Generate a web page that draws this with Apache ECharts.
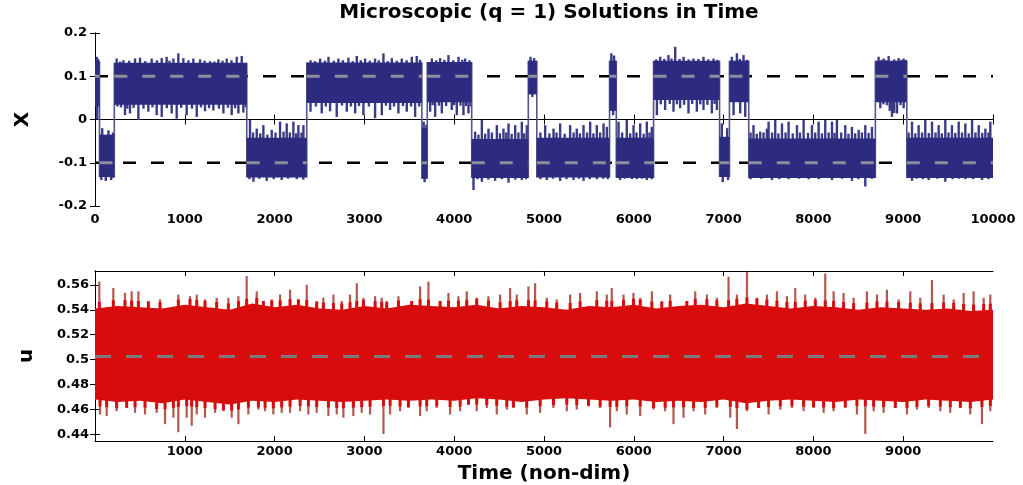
<!DOCTYPE html>
<html><head><meta charset="utf-8">
<script src="https://cdn.jsdelivr.net/npm/echarts@6/dist/echarts.min.js"></script>
<style>html,body{margin:0;padding:0;background:#fff}#c{width:1023px;height:485px}</style>
</head><body><div id="c"></div>
<script>
// ---------- Top panel (X) : metastable segments ----------
const xSegStart = [0, 50, 215, 1690, 2358, 3640, 3700, 4195, 4825, 4920, 5730, 5805, 6220, 6955, 7065, 7280, 8690, 9040];
const xSegEnd   = [50, 215, 1690, 2358, 3640, 3700, 4195, 4825, 4920, 5730, 5805, 6220, 6955, 7065, 7280, 8690, 9040, 10000];
const xSegState = [1, -1, 1, -1, 1, -1, 1, -1, 1, -1, 1, -1, 1, -1, 1, -1, 1, -1];
const xCoreHi   = [0.135, -0.035, 0.131, -0.042, 0.132, -0.02, 0.133, -0.045, 0.136, -0.042, 0.136, -0.042, 0.136, -0.04, 0.136, -0.044, 0.136, -0.042];
const xCoreLo   = [0.03, -0.133, 0.034, -0.134, 0.038, -0.137, 0.04, -0.135, 0.058, -0.134, 0.02, -0.135, 0.045, -0.133, 0.04, -0.135, 0.04, -0.135];
// upward excursions (peaks) of X, [time, value]
const xSpikeHi = [
 [20,0.145],[35,0.14],[80,-0.02],[150,-0.025],[200,-0.03],
 [241,0.141],[280,0.134],[316,0.137],[380,0.136],[446,0.141],[501,0.143],[560,0.135],[631,0.141],[690,0.137],[743,0.142],[798,0.145],[830,0.136],[873,0.141],[928,0.153],[984,0.142],[1040,0.137],[1095,0.141],[1170,0.139],[1220,0.136],[1281,0.135],[1330,0.134],[1374,0.139],[1420,0.136],[1467,0.141],[1520,0.137],[1578,0.145],[1634,0.147],
 [1726,-0.001],[1760,-0.03],[1801,-0.021],[1840,-0.032],[1875,-0.013],[1920,-0.035],[1968,-0.024],[2010,-0.03],[2061,-0.005],[2100,-0.028],[2135,-0.009],[2170,-0.03],[2209,-0.005],[2240,-0.032],[2265,-0.013],[2300,-0.03],[2321,-0.013],
 [2400,0.137],[2450,0.135],[2507,0.141],[2560,0.136],[2600,0.145],[2660,0.136],[2711,0.141],[2760,0.137],[2822,0.143],[2870,0.135],[2915,0.147],[2960,0.137],[3008,0.141],[3060,0.136],[3119,0.141],[3160,0.137],[3212,0.153],[3260,0.135],[3305,0.142],[3360,0.136],[3416,0.141],[3470,0.137],[3528,0.145],[3583,0.147],[3620,0.138],
 [3660,-0.005],[3690,-0.012],
 [3751,0.141],[3800,0.137],[3843,0.142],[3890,0.138],[3936,0.149],[3990,0.137],[4048,0.145],[4090,0.138],[4122,0.141],[4170,0.137],
 [4233,-0.028],[4270,-0.035],[4308,-0.001],[4345,-0.033],[4382,-0.021],[4420,-0.03],[4475,-0.013],[4510,-0.032],[4549,-0.021],[4580,-0.03],[4605,-0.009],[4640,-0.033],[4679,-0.013],[4715,-0.03],[4753,-0.005],[4780,-0.032],[4809,-0.013],
 [4850,0.145],[4890,0.142],
 [4960,-0.03],[5013,-0.013],[5060,-0.032],[5106,-0.021],[5140,-0.03],[5180,-0.009],[5230,-0.033],[5291,-0.013],[5330,-0.03],[5365,-0.021],[5400,-0.032],[5440,-0.013],[5480,-0.03],[5514,-0.005],[5550,-0.032],[5588,-0.013],[5625,-0.03],[5663,-0.009],[5700,-0.017],
 [5750,0.153],[5780,0.148],
 [5830,-0.005],[5870,-0.03],[5922,-0.001],[5960,-0.032],[5997,-0.013],[6030,-0.03],[6071,-0.009],[6110,-0.033],[6145,-0.005],[6175,-0.03],[6201,-0.017],
 [6250,0.139],[6294,0.145],[6340,0.14],[6386,0.149],[6420,0.141],[6461,0.168],[6510,0.14],[6554,0.145],[6610,0.139],[6665,0.141],[6720,0.14],[6776,0.145],[6830,0.139],[6888,0.141],[6930,0.138],
 [6980,-0.009],[7040,-0.02],
 [7092,0.145],[7148,0.153],[7180,0.14],[7222,0.149],[7260,0.138],
 [7300,-0.03],[7333,-0.013],[7370,-0.033],[7408,-0.028],[7445,-0.03],[7482,-0.021],[7501,-0.005],[7540,-0.03],[7575,-0.001],[7610,-0.032],[7650,-0.009],[7690,-0.03],[7724,-0.005],[7770,-0.032],[7817,-0.013],[7850,-0.03],[7891,-0.001],[7940,-0.031],[7984,-0.013],[8020,-0.03],[8058,-0.005],[8095,-0.032],[8132,-0.001],[8170,-0.03],[8207,-0.005],[8235,-0.031],[8262,-0.001],[8310,-0.03],[8355,-0.013],[8390,-0.033],[8429,-0.017],[8465,-0.032],[8504,-0.024],[8540,-0.03],[8578,-0.013],[8615,-0.031],[8652,-0.017],
 [8726,0.145],[8760,0.138],[8782,0.141],[8810,0.137],[8838,0.147],[8900,0.139],[8949,0.142],[8980,0.138],[9005,0.141],[9030,0.138],
 [9060,-0.03],[9098,-0.005],[9135,-0.032],[9172,-0.013],[9210,-0.03],[9246,-0.001],[9285,-0.031],[9321,-0.005],[9360,-0.03],[9395,-0.013],[9430,-0.032],[9469,-0.001],[9505,-0.03],[9543,-0.013],[9580,-0.031],[9618,-0.005],[9655,-0.03],[9692,-0.009],[9730,-0.032],[9767,-0.001],[9805,-0.03],[9841,-0.013],[9880,-0.031],[9915,-0.021],[9950,-0.03],[9970,-0.005]
];
// downward excursions (troughs) of X, [time, value]
const xSpikeLo = [
 [25,0.0],[70,-0.14],[120,-0.142],[180,-0.14],[205,-0.135],
 [250,0.03],[290,0.028],[334,0.010],[360,0.025],[390,0.014],[430,0.027],[483,-0.001],[540,0.025],[594,0.018],[640,0.028],[687,0.010],[743,0.006],[800,0.026],[854,0.014],[910,0.002],[960,0.027],[1021,0.010],[1080,0.025],[1133,0.006],[1180,0.028],[1225,0.019],[1270,0.026],[1318,0.021],[1380,0.025],[1430,0.014],[1480,0.027],[1522,0.010],[1560,0.026],[1597,0.014],[1652,0.016],[1680,0.028],
 [1720,-0.138],[1764,-0.144],[1830,-0.137],[1912,-0.142],[1990,-0.138],[2079,-0.14],[2150,-0.137],[2246,-0.138],[2320,-0.139],
 [2400,0.018],[2460,0.03],[2525,0.014],[2570,0.03],[2618,0.019],[2692,0.006],[2750,0.032],[2804,0.018],[2850,0.03],[2897,0.014],[2940,0.031],[2989,0.010],[3050,0.03],[3119,0.003],[3194,0.010],[3240,0.032],[3286,0.022],[3330,0.03],[3379,0.014],[3430,0.031],[3472,0.018],[3520,0.03],[3565,0.006],[3610,0.03],
 [3670,-0.145],
 [3732,0.018],[3760,0.033],[3788,0.006],[3830,0.032],[3862,0.014],[3910,0.031],[3973,0.022],[4000,0.033],[4029,0.010],[4070,0.032],[4103,0.010],[4130,0.031],[4159,0.014],[4185,0.03],
 [4215,-0.163],[4260,-0.138],[4308,-0.144],[4380,-0.139],[4456,-0.142],[4530,-0.138],[4605,-0.146],[4680,-0.139],[4753,-0.14],[4800,-0.138],
 [4870,0.052],
 [4960,-0.138],[5031,-0.14],[5100,-0.137],[5180,-0.142],[5250,-0.138],[5328,-0.14],[5390,-0.137],[5440,-0.142],[5510,-0.138],[5588,-0.138],[5660,-0.137],[5710,-0.138],
 [5770,0.01],
 [5848,-0.14],[5900,-0.137],[5980,-0.138],[6034,-0.138],[6090,-0.137],[6145,-0.14],[6200,-0.138],
 [6257,0.010],[6300,0.035],[6349,0.022],[6400,0.036],[6442,0.018],[6480,0.035],[6516,0.026],[6560,0.034],[6609,0.014],[6650,0.036],[6702,0.018],[6740,0.035],[6776,0.022],[6820,0.034],[6869,0.014],[6900,0.036],[6925,0.022],
 [6990,-0.145],[7050,-0.14],
 [7111,0.010],[7185,0.014],[7241,0.006],
 [7300,-0.138],[7420,-0.137],[7538,-0.14],[7620,-0.138],[7724,-0.138],[7840,-0.137],[7947,-0.138],[8060,-0.138],[8207,-0.14],[8320,-0.137],[8429,-0.142],[8500,-0.138],[8578,-0.155],[8650,-0.137],
 [8745,0.026],[8780,0.035],[8819,0.033],[8850,0.02],[8875,0.006],[8900,0.015],[8931,0.014],[8970,0.033],[9005,0.026],
 [9098,-0.142],[9150,-0.137],[9220,-0.138],[9283,-0.14],[9380,-0.137],[9469,-0.144],[9550,-0.138],[9620,-0.137],[9692,-0.138],[9780,-0.138],[9878,-0.14],[9950,-0.138]
];
const xWellLevels = [0.1, -0.1];
const xTicks = [-0.2, -0.1, 0, 0.1, 0.2];

// ---------- Bottom panel (u) ----------
const uCoreT  = [0, 250, 500, 750, 1000, 1250, 1500, 1750, 2000, 2250, 2500, 2750, 3000, 3250, 3500, 3750, 4000, 4250, 4500, 4750, 5000,
                 5250, 5500, 5750, 6000, 6250, 6500, 6750, 7000, 7250, 7500, 7750, 8000, 8250, 8500, 8750, 9000, 9250, 9500, 9750, 10000];
const uCoreHi = [0.541, 0.543, 0.542, 0.541, 0.544, 0.542, 0.540, 0.545, 0.542, 0.544, 0.541, 0.540, 0.543, 0.541, 0.544, 0.543, 0.542, 0.544, 0.541, 0.543, 0.542,
                 0.540, 0.543, 0.542, 0.544, 0.541, 0.543, 0.544, 0.542, 0.545, 0.543, 0.541, 0.543, 0.542, 0.540, 0.542, 0.541, 0.540, 0.541, 0.539, 0.540];
const uCoreLo = [0.468, 0.466, 0.467, 0.465, 0.468, 0.466, 0.464, 0.467, 0.466, 0.468, 0.467, 0.466, 0.467, 0.468, 0.467, 0.468, 0.467, 0.469, 0.468, 0.466, 0.468,
                 0.469, 0.468, 0.467, 0.468, 0.466, 0.467, 0.466, 0.468, 0.465, 0.467, 0.468, 0.467, 0.466, 0.468, 0.467, 0.466, 0.468, 0.467, 0.466, 0.468];
const uMean = 0.5025;
const uSpikeHi = [
 [48,0.5626],[204,0.5574],[334,0.5535],[408,0.5548],[483,0.5548],[594,0.547],[724,0.5483],[928,0.5522],[1058,0.5509],[1133,0.5522],[1225,0.5483],[1355,0.5496],[1485,0.5496],[1597,0.5509],[1689,0.567],[1801,0.5548],[1875,0.547],[1968,0.5483],[2061,0.5522],[2172,0.5561],[2265,0.5483],[2358,0.56],[2469,0.547],[2543,0.5496],[2655,0.5522],[2748,0.547],[2840,0.5522],[2915,0.5613],[2989,0.5496],[3119,0.5509],[3193,0.5496],
 [3249,0.547],[3379,0.5509],[3527,0.547],[3620,0.5587],[3713,0.5626],[3843,0.547],[3936,0.5535],[4047,0.5509],[4140,0.5548],[4251,0.5496],[4381,0.5509],[4511,0.5522],[4623,0.5574],[4697,0.5522],[4827,0.5587],[4901,0.5613],[5031,0.5496],[5142,0.5483],[5291,0.5522],[5402,0.5535],[5588,0.5548],[5699,0.5522],[5755,0.5574],[5885,0.5522],[5996,0.5535],[6071,0.5496],[6201,0.5548],[6312,0.547],[6405,0.5522],
 [6591,0.547],[6684,0.5548],[6814,0.5522],[6925,0.5496],[7055,0.5665],[7148,0.5522],[7260,0.5704],[7371,0.5496],[7482,0.5522],[7594,0.5548],[7705,0.5509],[7798,0.5574],[7909,0.5522],[8021,0.5496],[8132,0.5691],[8225,0.5548],[8336,0.5535],[8448,0.5496],[8596,0.5548],[8708,0.5522],[8819,0.5561],[8949,0.5483],[9079,0.5548],[9190,0.5496],[9320,0.5639],[9450,0.5522],[9562,0.5483],[9673,0.5535],[9784,0.5548],[9896,0.5496],[9970,0.5522]
];
const uSpikeLo = [
 [56,0.4561],[130,0.4548],[241,0.4587],[353,0.4613],[446,0.4574],[557,0.4561],[687,0.4574],[780,0.4483],[873,0.4535],[928,0.4418],[1021,0.4535],[1077,0.447],[1133,0.4561],[1225,0.4535],[1337,0.4574],[1430,0.4587],[1522,0.4535],[1597,0.4483],[1708,0.4561],[1819,0.46],[1894,0.4587],[1986,0.4561],[2079,0.4574],[2172,0.4574],[2284,0.4587],[2376,0.4561],[2469,0.4574],[2599,0.4548],[2692,0.4561],[2766,0.4535],[2877,0.4548],[2970,0.4574],[3063,0.4561],[3212,0.4405],
 [3286,0.4561],[3397,0.4587],[3490,0.4613],[3620,0.4548],[3694,0.4587],[3806,0.4613],[3954,0.4561],[4066,0.4587],[4159,0.4639],[4251,0.4587],[4363,0.4613],[4474,0.4561],[4586,0.46],[4660,0.4613],[4808,0.4561],[4957,0.4574],[5105,0.4613],[5254,0.4587],[5365,0.46],[5495,0.4626],[5625,0.4613],[5736,0.4457],[5811,0.4587],[5922,0.4561],[6071,0.4548],[6220,0.46],[6349,0.4587],[6442,0.4483],
 [6554,0.4535],[6666,0.4587],[6795,0.4561],[6925,0.4613],[7074,0.4535],[7148,0.4444],[7260,0.4587],[7390,0.4613],[7501,0.4561],[7631,0.46],[7761,0.4613],[7891,0.4587],[8002,0.4613],[8114,0.4574],[8225,0.4587],[8355,0.4613],[8485,0.4561],[8578,0.4405],[8671,0.4587],[8782,0.4574],[8912,0.4613],[9042,0.4561],[9153,0.46],[9283,0.4613],[9413,0.4587],[9524,0.4574],[9636,0.4613],[9747,0.4561],[9877,0.4483],[9970,0.4587]
];
const uTicks = [0.44, 0.46, 0.48, 0.5, 0.52, 0.54, 0.56];
const timeTicks = [1000, 2000, 3000, 4000, 5000, 6000, 7000, 8000, 9000];

// ---------- build ----------
const FONT = 'DejaVu Sans';
const NAVY = '#2c2b80', NAVY_EDGE = '#3b3a86', RED = '#d80c0c', RED_EDGE = '#b4574e';

function segIndexAt(t) {
  for (let i = 0; i < xSegStart.length; i++) if (t >= xSegStart[i] && t <= xSegEnd[i]) return i;
  return xSegStart.length - 1;
}
function coreAt(arr, t) {
  for (let i = 0; i < uCoreT.length - 1; i++) {
    if (t <= uCoreT[i + 1]) { const f = (t - uCoreT[i]) / (uCoreT[i + 1] - uCoreT[i]); return arr[i] + f * (arr[i + 1] - arr[i]); }
  }
  return arr[arr.length - 1];
}
const segData = xSegStart.map((s, i) => [s, xSegEnd[i], xCoreLo[i], xCoreHi[i]]);
const transData = xSegEnd.slice(0, -1).map((e, i) => [e, Math.min(xCoreLo[i], xCoreLo[i + 1]), Math.max(xCoreHi[i], xCoreHi[i + 1])]);
const hiData = xSpikeHi.map(p => [p[0], p[1], xCoreHi[segIndexAt(p[0])] - 0.01]);
const loData = xSpikeLo.map(p => [p[0], p[1], xCoreLo[segIndexAt(p[0])] + 0.01]);
function wellDash(state, level) {
  const d = [];
  xSegStart.forEach((s, i) => { if (xSegState[i] === state) { d.push([s, level], [xSegEnd[i], level], [xSegEnd[i], '-']); } });
  return d;
}
const uBand = [uCoreT.map((t, i) => [t, uCoreLo[i], uCoreHi[i]])];
const uHiData = uSpikeHi.map(p => [p[0], p[1], uMean]);
const uLoData = uSpikeLo.map(p => [p[0], p[1], uMean]);
// red inner part of each excursion (the dense red fringe next to the band)
const uHiStub = uSpikeHi.map(p => [p[0], Math.min(p[1], coreAt(uCoreHi, p[0]) + 0.005), uMean]);
const uLoStub = uSpikeLo.map(p => [p[0], Math.max(p[1], coreAt(uCoreLo, p[0]) - 0.005), uMean]);

function spikeItem(color, w) {
  return function (params, api) {
    const a = api.coord([api.value(0), api.value(2)]);
    const b = api.coord([api.value(0), api.value(1)]);
    return { type: 'line', shape: { x1: a[0], y1: a[1], x2: b[0], y2: b[1] }, style: { stroke: color, lineWidth: w } };
  };
}

const tickLabel = { fontFamily: FONT, fontWeight: 'bold', fontSize: 13, color: '#000' };
const axisLine = { show: true, lineStyle: { color: '#000', width: 1 } };
const plain = v => String(v);

const option = {
  animation: false,
  backgroundColor: '#fff',
  title: {
    text: 'Microscopic (q = 1) Solutions in Time',
    left: 544, top: -2, textAlign: 'center',
    textStyle: { fontFamily: FONT, fontWeight: 'bold', fontSize: 20, color: '#000' }
  },
  grid: [
    { left: 95, top: 33, width: 898, height: 173 },
    { left: 95, top: 271, width: 898, height: 175 }
  ],
  xAxis: [
    { gridIndex: 0, type: 'value', min: 0, max: 10000, interval: 1000, position: 'bottom',
      axisLine, axisTick: { inside: true, length: 5, lineStyle: { color: '#000' } },
      axisLabel: Object.assign({ margin: 7, formatter: plain }, tickLabel), splitLine: { show: false } },
    { gridIndex: 0, type: 'value', min: 0, max: 10000, interval: 1000, position: 'top',
      axisLine, axisTick: { inside: true, length: 5, lineStyle: { color: '#000' } },
      axisLabel: { show: false }, splitLine: { show: false } },
    { gridIndex: 1, type: 'value', min: 0, max: 10000, position: 'bottom',
      axisLine, axisTick: { inside: true, length: 5, customValues: timeTicks, lineStyle: { color: '#000' } },
      axisLabel: Object.assign({ margin: 4, customValues: timeTicks, formatter: plain }, tickLabel), splitLine: { show: false },
      name: 'Time (non-dim)', nameLocation: 'middle', nameGap: 23,
      nameTextStyle: { fontFamily: FONT, fontWeight: 'bold', fontSize: 20, color: '#000' } },
    { gridIndex: 1, type: 'value', min: 0, max: 10000, position: 'top',
      axisLine, axisTick: { inside: true, length: 5, customValues: timeTicks, lineStyle: { color: '#000' } },
      axisLabel: { show: false }, splitLine: { show: false } }
  ],
  yAxis: [
    { gridIndex: 0, type: 'value', min: -0.2, max: 0.2, position: 'left',
      axisLine, axisTick: { inside: true, length: 5, customValues: xTicks, lineStyle: { color: '#000' } },
      axisLabel: Object.assign({ margin: 8, customValues: xTicks, formatter: v => String(+v.toFixed(2)) }, tickLabel),
      splitLine: { show: false },
      name: 'X', nameLocation: 'middle', nameRotate: 90, nameGap: 62,
      nameTextStyle: { fontFamily: FONT, fontWeight: 'bold', fontSize: 20, color: '#000' } },
    { gridIndex: 0, type: 'value', min: -0.2, max: 0.2, position: 'right',
      axisLine, axisTick: { inside: true, length: 5, customValues: xTicks, lineStyle: { color: '#000' } },
      axisLabel: { show: false }, splitLine: { show: false } },
    { gridIndex: 1, type: 'value', min: 0.4348, max: 0.5711, position: 'left',
      axisLine, axisTick: { inside: true, length: 5, customValues: uTicks, lineStyle: { color: '#000' } },
      axisLabel: Object.assign({ margin: 6, customValues: uTicks, formatter: v => String(+v.toFixed(2)) }, tickLabel),
      splitLine: { show: false },
      name: 'u', nameLocation: 'middle', nameRotate: 90, nameGap: 58,
      nameTextStyle: { fontFamily: FONT, fontWeight: 'bold', fontSize: 20, color: '#000' } },
    { gridIndex: 1, type: 'value', min: 0.4348, max: 0.5711, position: 'right',
      axisLine, axisTick: { inside: true, length: 5, customValues: uTicks, lineStyle: { color: '#000' } },
      axisLabel: { show: false }, splitLine: { show: false } }
  ],
  series: [
    ...xWellLevels.map(l => ({
      type: 'line', xAxisIndex: 0, yAxisIndex: 0, data: [[0, l], [10000, l]], symbol: 'none', z: 1,
      lineStyle: { color: '#000', width: 2.5, type: [13, 15] }, silent: true
    })),
    { type: 'custom', xAxisIndex: 0, yAxisIndex: 0, z: 2, data: hiData, clip: true, renderItem: spikeItem(NAVY_EDGE, 2.4), silent: true },
    { type: 'custom', xAxisIndex: 0, yAxisIndex: 0, z: 2, data: loData, clip: true, renderItem: spikeItem(NAVY_EDGE, 2.4), silent: true },
    { type: 'custom', xAxisIndex: 0, yAxisIndex: 0, z: 3, data: transData, clip: true, silent: true,
      renderItem: (p, api) => {
        const a = api.coord([api.value(0), api.value(1)]), b = api.coord([api.value(0), api.value(2)]);
        return { type: 'line', shape: { x1: a[0], y1: a[1], x2: b[0], y2: b[1] }, style: { stroke: '#55558a', lineWidth: 1.6 } };
      } },
    { type: 'custom', xAxisIndex: 0, yAxisIndex: 0, z: 3, data: segData, clip: true, silent: true,
      renderItem: (p, api) => {
        const a = api.coord([api.value(0), api.value(3)]), b = api.coord([api.value(1), api.value(2)]);
        return { type: 'rect', shape: { x: a[0], y: a[1], width: b[0] - a[0], height: b[1] - a[1] }, style: { fill: NAVY } };
      } },
    { type: 'line', xAxisIndex: 0, yAxisIndex: 0, data: wellDash(1, 0.1), symbol: 'none', z: 4, silent: true,
      lineStyle: { color: '#8e8e9a', width: 3, type: [13, 15] } },
    { type: 'line', xAxisIndex: 0, yAxisIndex: 0, data: wellDash(-1, -0.1), symbol: 'none', z: 4, silent: true,
      lineStyle: { color: '#8e8e9a', width: 3, type: [13, 15] } },
    // bottom panel
    { type: 'custom', xAxisIndex: 2, yAxisIndex: 2, z: 2, data: uHiData, clip: true, renderItem: spikeItem(RED_EDGE, 2.2), silent: true },
    { type: 'custom', xAxisIndex: 2, yAxisIndex: 2, z: 2, data: uLoData, clip: true, renderItem: spikeItem(RED_EDGE, 2.2), silent: true },
    { type: 'custom', xAxisIndex: 2, yAxisIndex: 2, z: 2, data: uHiStub, clip: true, renderItem: spikeItem(RED, 3), silent: true },
    { type: 'custom', xAxisIndex: 2, yAxisIndex: 2, z: 2, data: uLoStub, clip: true, renderItem: spikeItem(RED, 3), silent: true },
    { type: 'custom', xAxisIndex: 2, yAxisIndex: 2, z: 3, data: [0], clip: true, silent: true,
      renderItem: (p, api) => {
        const band = uBand[0];
        const pts = band.map(r => api.coord([r[0], r[2]])).concat(band.slice().reverse().map(r => api.coord([r[0], r[1]])));
        return { type: 'polygon', shape: { points: pts }, style: { fill: RED } };
      } },
    { type: 'line', xAxisIndex: 2, yAxisIndex: 2, data: [[0, uMean], [10000, uMean]], symbol: 'none', z: 4, silent: true,
      lineStyle: { color: '#7a7a7a', width: 3, type: [16, 15] } }
  ]
};
const chart = echarts.init(document.getElementById('c'), null, { renderer: 'canvas' });
chart.setOption(option);
</script>
</body></html>
